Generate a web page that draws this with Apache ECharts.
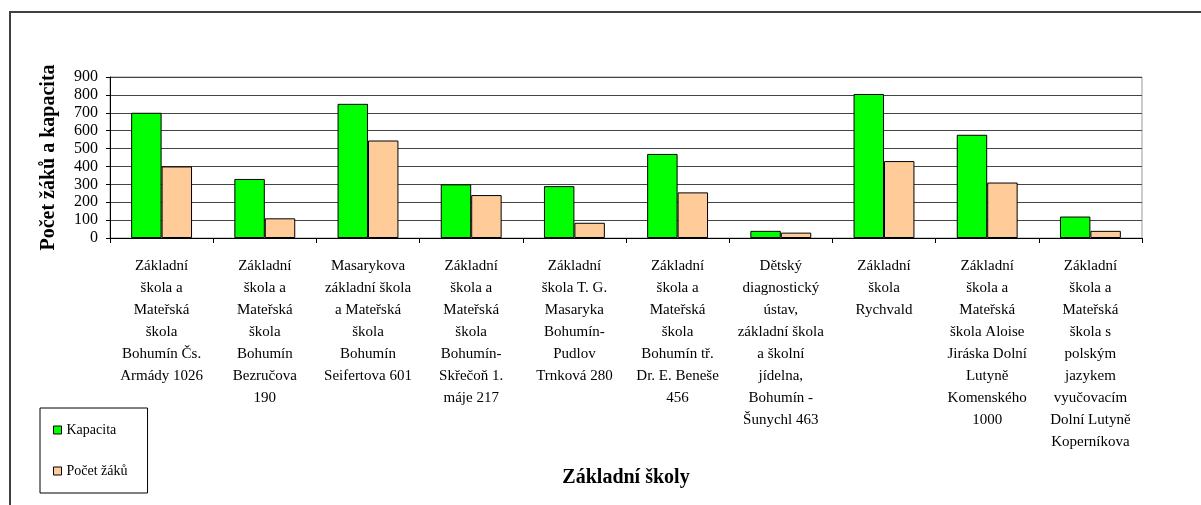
<!DOCTYPE html>
<html>
<head>
<meta charset="utf-8">
<script src="https://cdn.jsdelivr.net/npm/echarts@6/dist/echarts.min.js"></script>
<style>
  html, body { margin: 0; padding: 0; background: #fff; }
  #chart { width: 1201px; height: 505px; }
</style>
</head>
<body>
<div id="chart"></div>
<script>
// školy (zalomeno jako v originále)
var schools = [
  "Základní\nškola a\nMateřská\nškola\nBohumín Čs.\nArmády 1026",
  "Základní\nškola a\nMateřská\nškola\nBohumín\nBezručova\n190",
  "Masarykova\nzákladní škola\na Mateřská\nškola\nBohumín\nSeifertova 601",
  "Základní\nškola a\nMateřská\nškola\nBohumín-\nSkřečoň 1.\nmáje 217",
  "Základní\nškola T. G.\nMasaryka\nBohumín-\nPudlov\nTrnková 280",
  "Základní\nškola a\nMateřská\nškola\nBohumín tř.\nDr. E. Beneše\n456",
  "Dětský\ndiagnostický\nústav,\nzákladní škola\na školní\njídelna,\nBohumín -\nŠunychl 463",
  "Základní\nškola\nRychvald",
  "Základní\nškola a\nMateřská\nškola Aloise\nJiráska Dolní\nLutyně\nKomenského\n1000",
  "Základní\nškola a\nMateřská\nškola s\npolským\njazykem\nvyučovacím\nDolní Lutyně\nKoperníkova"
];
var kapacita = [700, 330, 750, 300, 290, 470, 40, 805, 577, 120];
var pocetZaku = [400, 110, 545, 240, 85, 255, 30, 430, 310, 40];

var serif = "'Liberation Serif', 'Times New Roman', serif";

var myChart = echarts.init(document.getElementById("chart"));
var option = {
  animation: false,
  backgroundColor: "#fff",
  grid: {
    left: 110,
    right: 59,
    top: 77,
    bottom: 267,
    show: true,
    borderColor: "#999",
    borderWidth: 1
  },
  graphic: [
    {
      type: "rect",
      shape: { x: 10, y: 12, width: 1300, height: 600 },
      style: { fill: "none", stroke: "#404040", lineWidth: 2 },
      silent: true
    }
  ],
  legend: {
    orient: "vertical",
    left: 40,
    top: 408,
    padding: [15, 20, 15, 13],
    itemGap: 27,
    itemWidth: 8,
    itemHeight: 8,
    icon: "rect",
    borderColor: "#000",
    borderWidth: 1,
    textStyle: { fontFamily: serif, fontSize: 14, color: "#000" },
    data: [
      { name: "Kapacita", itemStyle: { borderColor: "#000", borderWidth: 1 } },
      { name: "Počet žáků", itemStyle: { borderColor: "#000", borderWidth: 1 } }
    ]
  },
  xAxis: {
    type: "category",
    data: schools,
    name: "Základní školy",
    nameLocation: "middle",
    nameGap: 230,
    nameTextStyle: { fontFamily: serif, fontSize: 20, fontWeight: "bold", color: "#000" },
    axisLine: { show: true, lineStyle: { color: "#000", width: 1 } },
    axisTick: { show: true, length: 5, lineStyle: { color: "#000" } },
    axisLabel: {
      interval: 0,
      margin: 17,
      fontFamily: serif,
      fontSize: 15,
      lineHeight: 22,
      color: "#000",
      align: "center"
    },
    splitLine: { show: false }
  },
  yAxis: {
    type: "value",
    min: 0,
    max: 900,
    interval: 100,
    name: "Počet žáků a kapacita",
    nameLocation: "middle",
    nameGap: 51,
    nameTextStyle: { fontFamily: serif, fontSize: 20, fontWeight: "bold", color: "#000" },
    axisLine: { show: true, lineStyle: { color: "#000", width: 1 } },
    axisTick: { show: true, length: 4, lineStyle: { color: "#000" } },
    axisLabel: { margin: 12, fontFamily: serif, fontSize: 16, color: "#000" },
    splitLine: { show: true, lineStyle: { color: "#444", width: 1 } }
  },
  series: [
    {
      name: "Kapacita",
      type: "bar",
      barGap: "0%",
      barCategoryGap: "41%",
      itemStyle: { color: "#00FF00", borderColor: "#000", borderWidth: 1 },
      data: kapacita
    },
    {
      name: "Počet žáků",
      type: "bar",
      itemStyle: { color: "#FFCC99", borderColor: "#000", borderWidth: 1 },
      data: pocetZaku
    }
  ]
};
myChart.setOption(option);
</script>
</body>
</html>
